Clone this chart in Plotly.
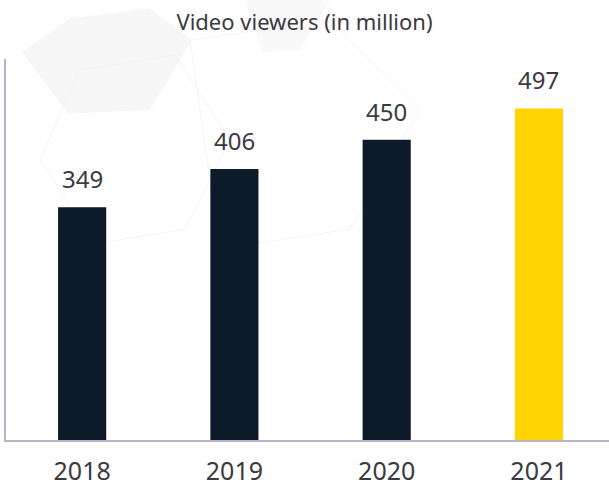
import plotly.graph_objects as go

years = ["2018", "2019", "2020", "2021"]
viewers = [349, 406, 450, 497]
bar_colors = ["#0c1a2a", "#0c1a2a", "#0c1a2a", "#ffd400"]

W, H = 609, 487
L, R, T, B = 6, 0, 59, 45  # margins in px
PW, PH = W - L - R, H - T - B

def px(x, y):
    return (x - L) / PW, (H - B - y) / PH

def poly(points):
    pts = [px(x, y) for x, y in points]
    return "M " + " L ".join(f"{a:.4f},{b:.4f}" for a, b in pts) + " Z"

shapes = [
    dict(type="path", xref="paper", yref="paper", layer="below",
         path=poly([(22, 52), (70, 18), (150, 8), (192, 40), (150, 110), (68, 114)]),
         fillcolor="#f7f7f7", line=dict(width=0)),
    dict(type="path", xref="paper", yref="paper", layer="below",
         path=poly([(245, 0), (330, 0), (300, 50), (262, 52)]),
         fillcolor="#f9f9f9", line=dict(width=0)),
    dict(type="path", xref="paper", yref="paper", layer="below",
         path=poly([(80, 70), (175, 55), (230, 140), (185, 230), (95, 245), (40, 160)]),
         fillcolor="rgba(0,0,0,0)", line=dict(width=1, color="#f3f3f3")),
    dict(type="path", xref="paper", yref="paper", layer="below",
         path=poly([(190, 40), (330, 20), (420, 110), (350, 230), (220, 250)]),
         fillcolor="rgba(0,0,0,0)", line=dict(width=1, color="#f4f4f4")),
]

fig = go.Figure()
fig.add_trace(go.Bar(
    x=years, y=viewers, marker=dict(color=bar_colors, line=dict(width=0)),
    width=0.316, cliponaxis=False, hoverinfo="x+y",
))
for i, v in enumerate(viewers):
    fig.add_annotation(x=i, y=v, xref="x", yref="y", text=str(v), showarrow=False,
                       yanchor="bottom", yshift=10,
                       font=dict(size=24, color="#3a3a40", family="Noto Sans"))

fig.update_layout(
    width=W, height=H,
    margin=dict(l=L, r=R, t=T, b=B),
    paper_bgcolor="white", plot_bgcolor="rgba(0,0,0,0)",
    showlegend=False, shapes=shapes,
    font=dict(family="Noto Sans", color="#3a3a40"),
    title=dict(text="Video viewers (in million)", x=0.5, xanchor="center",
               y=1 - 22/H, yanchor="middle", yref="container",
               font=dict(size=22, color="#3a3a40", family="Noto Sans")),
    xaxis=dict(type="category", range=[-0.5, 3.46], showline=True, linecolor="#b5b5c6",
               linewidth=2, ticks="", tickfont=dict(size=25, color="#3a3a40"),
               showgrid=False, ticklabelstandoff=8),
    yaxis=dict(range=[0, 571], showline=True, linecolor="#b5b5c6", linewidth=2,
               showticklabels=False, ticks="", showgrid=False, zeroline=False),
)
fig.write_html("out.html", config={"displayModeBar": False},
               post_script="document.body.style.margin='0';")
